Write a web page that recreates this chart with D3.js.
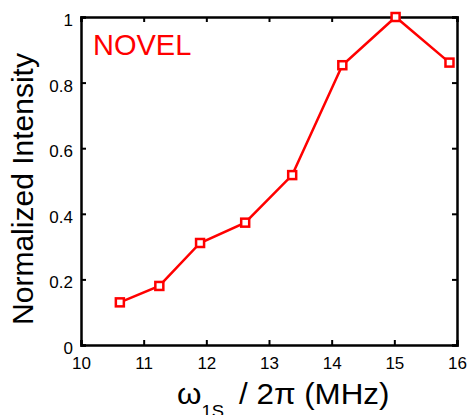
<!DOCTYPE html>
<html>
<head>
<meta charset="utf-8">
<script src="https://cdn.jsdelivr.net/npm/d3@7"></script>
<style>
  body { margin: 0; background: #fff; }
  text { font-family: "Liberation Sans", Arial, sans-serif; }
</style>
</head>
<body>
<div class="chart"></div>
<script>
// DATA
var freqs = [10.62, 11.25, 11.90, 12.62, 13.37, 14.17, 15.02, 15.88]
var intensity = [0.130, 0.180, 0.311, 0.373, 0.518, 0.853, 1.0, 0.861]
var xTicks = [10, 11, 12, 13, 14, 15, 16]
var yTicks = [0, 0.2, 0.4, 0.6, 0.8, 1]
var yTickLabels = ['0', '0.2', '0.4', '0.6', '0.8', '1']

var w = 474
var h = 415
var margin = {left: 81, top: 17, right: 17, bottom: 70}

var svg = d3.select('.chart').append('svg')
    .attr('width', w)
    .attr('height', h)

var x = d3.scaleLinear().domain([10, 16]).range([margin.left, w - margin.right])
var y = d3.scaleLinear().domain([0, 1]).range([h - margin.bottom, margin.top])

// BOX + TICKS (MATLAB STYLE, TICKS POINTING IN)
var tickLen = 5
var axisg = svg.append('g').attr('class', 'axes')

axisg.append('g').attr('class', 'xaxis')
    .attr('transform', 'translate(0,' + y(0) + ')')
    .call(d3.axisBottom(x).tickValues(xTicks).tickSize(-tickLen).tickPadding(12).tickFormat(d3.format('d')))
axisg.append('g')
    .attr('transform', 'translate(0,' + y(1) + ')')
    .call(d3.axisTop(x).tickValues(xTicks).tickSize(-tickLen).tickFormat(''))
axisg.append('g').attr('class', 'yaxis')
    .attr('transform', 'translate(' + x(10) + ',0)')
    .call(d3.axisLeft(y).tickValues(yTicks).tickSize(-tickLen).tickPadding(8)
        .tickFormat(function(d, i){ return yTickLabels[i] }))
axisg.append('g')
    .attr('transform', 'translate(' + x(16) + ',0)')
    .call(d3.axisRight(y).tickValues(yTicks).tickSize(-tickLen).tickFormat(''))

axisg.selectAll('.domain').attr('stroke', '#000').attr('stroke-width', 2.5)
axisg.selectAll('.tick line').attr('stroke', '#000').attr('stroke-width', 2)
axisg.selectAll('.tick text').style('font-size', '17px').attr('fill', '#000')
axisg.selectAll('.xaxis .tick text').attr('dy', '0.71em')
axisg.selectAll('.yaxis .tick text').attr('dy', '0.5em')

// LINE + MARKERS
var pts = freqs.map(function(f, i){ return {f: f, v: intensity[i]} })

svg.append('path')
    .datum(pts)
    .attr('fill', 'none')
    .attr('stroke', '#ff0000')
    .attr('stroke-width', 2.5)
    .attr('d', d3.line().x(function(d){ return x(d.f) }).y(function(d){ return y(d.v) }))

var ms = 8
svg.append('g').selectAll('rect')
    .data(pts)
    .enter().append('rect')
    .attr('x', function(d){ return x(d.f) - ms/2 })
    .attr('y', function(d){ return y(d.v) - ms/2 })
    .attr('width', ms)
    .attr('height', ms)
    .attr('fill', '#fff')
    .attr('stroke', '#ff0000')
    .attr('stroke-width', 2.5)

// LABELS
svg.append('text')
    .attr('x', 93)
    .attr('y', 55)
    .style('font-size', '29px')
    .attr('fill', '#ff0000')
    .text('NOVEL')

svg.append('text')
    .attr('transform', 'translate(33,' + 189 + ') rotate(-90)')
    .attr('text-anchor', 'middle')
    .style('font-size', '30px')
    .attr('fill', '#000')
    .text('Normalized Intensity')

var xl = svg.append('text')
    .attr('transform', 'translate(177,404) scale(1.08,1)')
    .style('font-size', '29px')
    .attr('fill', '#000')
xl.append('tspan').text('\u03C9')
xl.append('tspan').attr('dy', 13).style('font-size', '17px').text('1S')
xl.append('tspan').attr('dy', -13).attr('dx', 6).text(' / 2\u03C0 (MHz)')
</script>
</body>
</html>
